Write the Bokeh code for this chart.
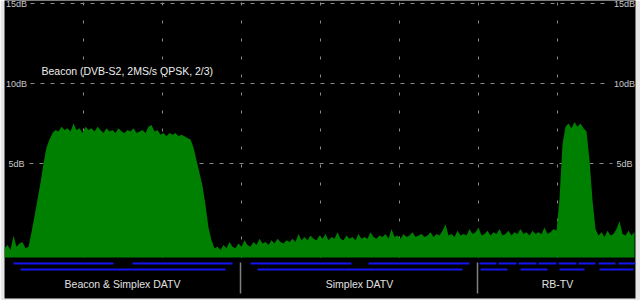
from bokeh.plotting import figure
from bokeh.models import Range1d, ColumnDataSource
from bokeh.core.properties import value
from bokeh.embed import file_html
from bokeh.resources import INLINE

# ---- data -------------------------------------------------------------
# spectrum level (dB) at frequency bins 0,3,6,... (bin width = one display step)
level_db = [
    -0.3, -0.1, -0.4, 0.5, -0.2, 0.0, 0.1, -0.3, -0.2, 0.7,
    1.7, 2.75, 3.8, 5.0, 6.0, 6.5, 6.9, 7.1,
    7.0, 7.3, 7.1, 7.2, 7.0, 7.5, 7.1, 7.2, 6.9, 7.3,
    7.1, 7.2, 7.0, 7.3, 7.1, 6.9, 7.2, 7.0, 7.1, 6.9,
    7.2, 7.0, 6.9, 7.1, 7.0, 7.2, 6.9, 7.0, 7.1, 6.9,
    7.3, 7.4, 7.0, 7.1, 6.8, 6.9, 6.7, 6.9, 6.8, 6.9,
    6.7, 6.8, 6.7, 6.6, 6.5,
    6.0, 5.2, 4.4, 3.6, 2.4, 1.0, 0.2, -0.3,
    -0.2, -0.4, -0.1, -0.3, 0.1, -0.2, -0.3, 0.0, -0.2, 0.2, -0.1, -0.2,
    0.1, -0.1, 0.3, 0.0, 0.1, -0.1, 0.2, 0.0, 0.3, 0.1, 0.0, 0.2, 0.1,
    0.3, 0.1, 0.6, 0.2, 0.4, 0.2, 0.5, 0.3, 0.2, 0.5,
    0.3, 0.6, 0.2, 0.4, 0.3, 0.7, 0.3, 0.2, 0.5, 0.3,
    0.4, 0.2, 0.6, 0.3, 0.4, 0.3, 0.7, 0.4, 0.3, 0.5,
    0.4, 0.6, 0.3, 0.9, 0.4, 0.5, 0.3, 0.6, 0.4, 0.5,
    0.7, 0.4, 0.5, 0.6, 0.4,
    0.5, 0.7, 0.4, 0.6, 0.5, 0.8, 1.2, 0.5, 0.6, 0.4,
    0.8, 0.5, 0.6, 0.5, 0.9, 0.6, 0.7, 1.0, 0.5, 0.6,
    0.8, 0.5, 0.7, 0.6, 0.9, 0.5, 0.6, 0.8, 0.5, 0.7,
    0.6, 0.9, 0.6, 0.7, 0.5, 0.8, 0.6, 0.7, 0.6, 1.0,
    0.6, 0.7, 0.9, 0.8,
    2.8, 6.2, 7.3, 7.5, 7.2, 7.6, 7.3, 7.5, 7.2, 7.0,
    5.2, 2.7, 0.9,
    0.5, 0.7, 0.4, 0.8, 0.5, 0.6, 0.9, 1.4, 0.6, 0.5, 0.8, 0.5, 0.7,
]
bins = [3 * i for i in range(len(level_db))]

db_ticks = [5, 10, 15]
db_labels = ["5dB", "10dB", "15dB"]
freq_grid = [79, 158, 237, 316, 395, 474, 553]

# band plan segments (bin start, bin end, row)
seg_start = [9, 128, 246, 364, 475, 494, 514, 534, 554, 574, 594, 614,
             16, 253, 476, 516, 555, 595]
seg_end = [109, 228, 347, 465, 492, 512, 532, 552, 572, 591, 611, 631,
           221, 458, 503, 543, 580, 629]
seg_row = [1, 1, 1, 1, 1, 1, 1, 1, 1, 1, 1, 1,
           2, 2, 2, 2, 2, 2]
band_names = ["Beacon & Simplex DATV", "Simplex DATV", "RB-TV"]
band_centers = [118, 355, 553]
band_dividers = [236, 473]

beacon_text = "Beacon (DVB-S2, 2MS/s QPSK, 2/3)"

# ---- layout constants -------------------------------------------------
FLOOR = -0.875
ROW_Y = {1: -1.25, 2: -1.625}
FONT = value("Liberation Sans")

p = figure(width=640, height=300, x_range=Range1d(0, 631),
           y_range=Range1d(-3.4375, 15.1875),
           x_axis_type=None, y_axis_type=None,
           output_backend="svg", toolbar_location=None,
           min_border_left=4, min_border_right=5,
           min_border_top=0, min_border_bottom=2)
p.background_fill_color = "black"
p.border_fill_color = "#e6e6e6"
p.outline_line_color = None

# grid
p.segment(x0=freq_grid, y0=[FLOOR] * len(freq_grid),
          x1=freq_grid, y1=[15.1875] * len(freq_grid),
          line_color="#8a8a8a", line_width=1, line_dash="3 15")
p.segment(x0=[25, 26, 26], y0=db_ticks, x1=[608, 604, 604], y1=db_ticks,
          line_color="#8a8a8a", line_width=1, line_dash="4 6")

# spectrum
p.varea(x=bins, y1=[FLOOR] * len(bins), y2=level_db, fill_color="#008000")

# dB labels
p.text(x=[12] * 3, y=db_ticks, text=db_labels, text_align="center",
       text_baseline="middle", text_color="#c8c8c8", text_font=FONT,
       text_font_size="9px")
p.text(x=[620] * 3, y=db_ticks, text=db_labels, text_align="center",
       text_baseline="middle", text_color="#c8c8c8", text_font=FONT,
       text_font_size="9px")

p.text(x=[37], y=[10.81], text=[beacon_text], text_align="left",
       text_baseline="middle", text_color="#eeeeee", text_font=FONT,
       text_font_size="10.5px")

# band plan
seg_src = ColumnDataSource(dict(x0=seg_start, x1=seg_end,
                                y=[ROW_Y[r] for r in seg_row]))
p.segment(x0="x0", y0="y", x1="x1", y1="y", source=seg_src,
          line_color="#1414f0", line_width=2)
p.segment(x0=band_dividers, y0=[-1.1875] * 2, x1=band_dividers,
          y1=[-3.125] * 2, line_color="#808080", line_width=1.5)
p.text(x=band_centers, y=[-2.5] * 3, text=band_names, text_align="center",
       text_baseline="middle", text_color="#e0e0e0", text_font=FONT,
       text_font_size="10.5px")

open("out.html", "w").write(file_html(p, INLINE))
